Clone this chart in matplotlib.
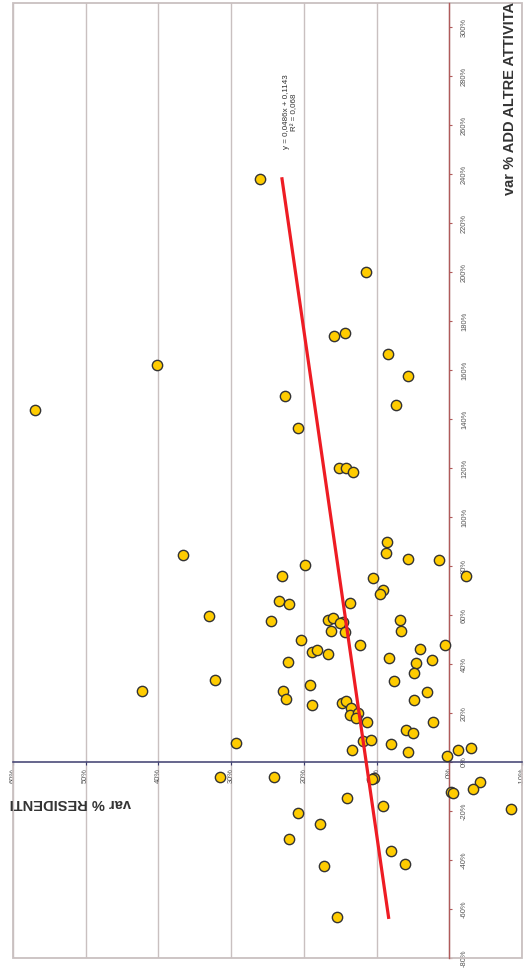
import matplotlib
matplotlib.use("Agg")
import matplotlib.pyplot as plt
import numpy as np
from matplotlib.ticker import FixedLocator, FuncFormatter
from matplotlib.patches import Rectangle

# var % RESIDENTI (horizontal axis, reversed)
residenti = [0.570, 0.402, 0.2605, 0.115, 0.159, 0.144, 0.0848, 0.0568, 0.0729, 0.2257,
             0.2078, 0.1518, 0.1421, 0.1329, 0.3665, 0.0853, 0.0875, 0.0568, 0.0146, 0.1986,
             0.2306, -0.0234, 0.105, 0.0908, 0.0958, 0.2339, 0.221, 0.1366, 0.3307, 0.2454,
             0.1665, 0.1604, 0.1467, 0.1504, 0.0674, 0.1624, 0.1431, 0.0665, 0.2045, 0.1226,
             0.0055, 0.0403, 0.1889, 0.182, 0.1669, 0.2216, 0.0826, 0.0454, 0.0242, 0.0486,
             0.0757, 0.3224, 0.1913, 0.4229, 0.2288, 0.0311, 0.2247, 0.1885, 0.1477, 0.1426,
             0.0486, 0.1353, 0.1366, 0.1256, 0.1288, 0.1133, 0.022, 0.0592, 0.05, 0.2935,
             0.1188, 0.1082, 0.0802, 0.1335, 0.0568, -0.0124, -0.0303, 0.0036, 0.3155, 0.2412,
             0.104, 0.106, -0.0422, -0.003, -0.005, -0.0326, 0.141, 0.0912, 0.2082, -0.0849,
             0.178, 0.2206, 0.0803, 0.0611, 0.1725, 0.1546]
# var % ADD ALTRE ATTIVITA (vertical axis)
add_altre = [1.439, 1.622, 2.382, 2.002, 1.742, 1.753, 1.666, 1.578, 1.458, 1.495,
             1.365, 1.202, 1.203, 1.186, 0.847, 0.897, 0.855, 0.828, 0.825, 0.805,
             0.762, 0.761, 0.752, 0.701, 0.688, 0.659, 0.644, 0.650, 0.598, 0.578,
             0.579, 0.589, 0.572, 0.569, 0.582, 0.537, 0.533, 0.534, 0.498, 0.480,
             0.477, 0.462, 0.451, 0.459, 0.443, 0.407, 0.425, 0.406, 0.418, 0.362,
             0.333, 0.337, 0.315, 0.292, 0.289, 0.285, 0.256, 0.232, 0.240, 0.251,
             0.254, 0.220, 0.194, 0.199, 0.179, 0.164, 0.162, 0.133, 0.120, 0.080,
             0.085, 0.091, 0.073, 0.048, 0.040, 0.051, 0.056, 0.025, -0.059, -0.059,
             -0.064, -0.068, -0.080, -0.122, -0.126, -0.108, -0.145, -0.178, -0.206, -0.190,
             -0.251, -0.316, -0.365, -0.418, -0.426, -0.634]

# trend line (residenti = slope * add_altre + intercept)
trend_slope = 0.0486
trend_intercept = 0.1143
trend_label = "y = 0,0486x + 0,1143\nR² = 0,068"

x_ticks = [0.6, 0.5, 0.4, 0.3, 0.2, 0.1, 0.0, -0.1]
y_ticks = [-0.8, -0.6, -0.4, -0.2, 0.0, 0.2, 0.4, 0.6, 0.8, 1.0, 1.2, 1.4, 1.6, 1.8,
           2.0, 2.2, 2.4, 2.6, 2.8, 3.0]
x_title = "var % RESIDENTI"
y_title = "var % ADD ALTRE ATTIVITA"

plt.rcParams['font.family'] = ['Liberation Sans', 'DejaVu Sans']

fig = plt.figure(figsize=(5.25, 9.68), dpi=100)
ax = fig.add_axes([13 / 525, 1 - 958 / 968, 509 / 525, 955 / 968])
ax.set_xlim(0.6, -0.1)
ax.set_ylim(-0.8, 3.1)

frame_col = '#c9c0c0'
ax.grid(axis='x', color=frame_col, lw=1.0, zorder=0)
ax.set_axisbelow(True)

for s in ['left', 'top']:
    ax.spines[s].set_visible(False)
ax.spines['right'].set_position(('data', 0))
ax.spines['right'].set_color('#b05a5a')
ax.spines['right'].set_linewidth(1.0)
ax.spines['bottom'].set_position(('data', 0))
ax.spines['bottom'].set_color('#3c3c6e')
ax.spines['bottom'].set_linewidth(1.1)
ax.yaxis.tick_right()

ax.add_patch(Rectangle((0, 0), 1, 1, transform=ax.transAxes, fill=False,
                       edgecolor=frame_col, lw=1.3, clip_on=False, zorder=1))

pct = FuncFormatter(lambda v, p: f"{v * 100:.0f}%")
ax.xaxis.set_major_locator(FixedLocator(x_ticks))
ax.yaxis.set_major_locator(FixedLocator(y_ticks))
ax.xaxis.set_major_formatter(pct)
ax.yaxis.set_major_formatter(pct)
ax.tick_params(axis='x', length=2.5, width=0.8, color='#3c3c6e', pad=1.5,
               labelsize=5.4, labelcolor='#555555', labelrotation=90)
ax.tick_params(axis='y', length=2.5, width=0.8, color='#b05a5a', pad=6,
               labelsize=5.4, labelcolor='#555555', labelrotation=90)
for lbl in ax.get_xticklabels():
    lbl.set_va('top')
    lbl.set_ha('center')
for lbl in ax.get_yticklabels():
    lbl.set_va('center')
    lbl.set_ha('left')

ax.scatter(residenti, add_altre, s=55, c='#FFCC00', edgecolors='#333333',
           linewidths=1.0, zorder=3)

yy = np.array([min(add_altre), max(add_altre)])
ax.plot(trend_slope * yy + trend_intercept, yy, color='#EE1C24', lw=2.3, zorder=4)

ax.text(0.218, 2.655, trend_label, rotation=90, ha='center', va='center',
        multialignment='center', fontsize=5.8, color='#333333', linespacing=1.3)

ax.text(0.976, (958 - 195) / 955, y_title, transform=ax.transAxes, rotation=90,
        ha='center', va='bottom', fontsize=10.5, fontweight='bold', color='#333333')
ax.text(0.112, (958 - 803) / 955, x_title, transform=ax.transAxes, rotation=180,
        ha='center', va='center', fontsize=10.5, fontweight='bold', color='#333333')

fig.savefig('out.png', dpi=100)
